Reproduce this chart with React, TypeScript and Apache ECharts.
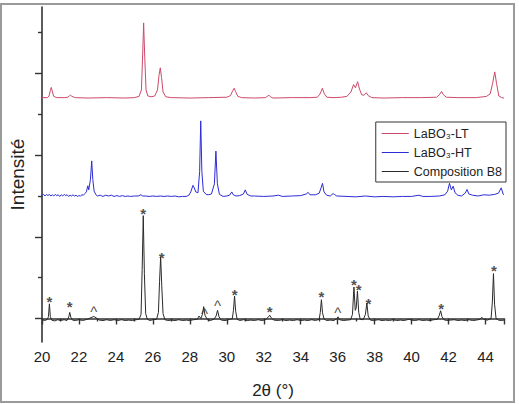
import React, { useEffect, useRef } from "react";
import * as echarts from "echarts";

// 2θ / intensity pairs (intensity in tick units, bottom tick = 0)
const LT_POINTS: [number, number][] = [
  [20.0, 5.41], [20.3, 5.41], [20.38, 5.45], [20.45, 5.58], [20.5, 5.66], [20.55, 5.58], [20.63, 5.44], [20.8, 5.41],
  [21.2, 5.41], [21.4, 5.42], [21.5, 5.46], [21.55, 5.47], [21.62, 5.44], [21.8, 5.41], [22.5, 5.4], [23.5, 5.41],
  [24.5, 5.4], [25.0, 5.41], [25.25, 5.44], [25.38, 5.6], [25.45, 6.5], [25.5, 7.24], [25.56, 6.4], [25.63, 5.6],
  [25.73, 5.45], [25.9, 5.43], [26.1, 5.45], [26.25, 5.6], [26.33, 5.95], [26.4, 6.14], [26.47, 5.9], [26.55, 5.55],
  [26.7, 5.43], [27.0, 5.41], [28.0, 5.4], [29.0, 5.41], [30.0, 5.42], [30.2, 5.46], [30.32, 5.58], [30.4, 5.64],
  [30.47, 5.56], [30.6, 5.44], [30.8, 5.41], [31.5, 5.4], [32.1, 5.41], [32.22, 5.45], [32.28, 5.47], [32.36, 5.43],
  [32.5, 5.4], [33.5, 5.41], [34.5, 5.41], [34.9, 5.42], [35.05, 5.5], [35.17, 5.64], [35.28, 5.5], [35.42, 5.42],
  [35.8, 5.41], [36.2, 5.42], [36.5, 5.44], [36.72, 5.55], [36.86, 5.73], [36.96, 5.65], [37.08, 5.8], [37.18, 5.62],
  [37.3, 5.48], [37.43, 5.47], [37.55, 5.53], [37.65, 5.46], [37.85, 5.41], [38.5, 5.4], [39.5, 5.41], [40.5, 5.41],
  [41.35, 5.42], [41.5, 5.48], [41.62, 5.56], [41.72, 5.48], [41.88, 5.42], [42.5, 5.41], [43.5, 5.41], [44.05, 5.44],
  [44.25, 5.5], [44.38, 5.75], [44.5, 6.04], [44.6, 5.75], [44.72, 5.45], [44.88, 5.41], [45.0, 5.4],
];

const HT_POINTS: [number, number][] = [
  [20.0, 3.02], [20.08, 3.04], [20.16, 3.0], [20.24, 3.04], [20.32, 3.01], [20.4, 3.04], [20.48, 3.0], [20.56, 3.03],
  [20.64, 3.0], [20.72, 3.04], [20.8, 3.01], [20.88, 3.03], [20.96, 2.99], [21.04, 3.03], [21.12, 3.0], [21.2, 3.04],
  [21.28, 3.01], [21.36, 3.03], [21.44, 2.99], [21.52, 3.02], [21.6, 3.0], [21.68, 3.03], [21.76, 3.0], [21.84, 3.02],
  [21.92, 2.99], [22.0, 3.01], [22.08, 3.0], [22.16, 3.03], [22.24, 3.02], [22.32, 3.06], [22.4, 3.1], [22.48, 3.25],
  [22.53, 3.15], [22.62, 3.4], [22.69, 3.86], [22.75, 3.4], [22.82, 3.12], [22.92, 3.03], [23.0, 3.0], [23.15, 3.02],
  [23.3, 2.99], [23.45, 3.02], [23.6, 3.0], [23.75, 3.02], [23.9, 2.99], [24.05, 3.01], [24.2, 2.99], [24.35, 3.01],
  [24.5, 2.99], [24.65, 3.0], [24.8, 2.99], [25.0, 3.0], [25.2, 3.0], [25.35, 3.03], [25.45, 3.0], [25.6, 3.0],
  [25.8, 2.99], [26.0, 3.0], [26.2, 2.99], [26.4, 3.0], [26.6, 2.99], [26.8, 3.0], [27.0, 2.99], [27.2, 3.0],
  [27.4, 2.98], [27.6, 2.99], [27.8, 2.99], [27.95, 3.02], [28.05, 3.1], [28.17, 3.26], [28.24, 3.2], [28.32, 3.1],
  [28.44, 3.08], [28.53, 3.6], [28.59, 4.84], [28.65, 3.6], [28.73, 3.12], [28.88, 3.04], [29.0, 3.03], [29.17, 3.05],
  [29.33, 3.3], [29.41, 4.1], [29.49, 3.3], [29.6, 3.04], [29.8, 2.99], [30.0, 3.0], [30.15, 3.02], [30.27, 3.1],
  [30.35, 3.03], [30.5, 3.0], [30.7, 3.01], [30.9, 3.05], [31.0, 3.15], [31.1, 3.04], [31.3, 3.0], [31.5, 3.0],
  [32.0, 2.99], [32.5, 3.0], [32.8, 3.02], [33.0, 2.99], [33.5, 3.0], [34.0, 3.01], [34.3, 3.05], [34.4, 3.09],
  [34.5, 3.03], [34.8, 3.03], [35.0, 3.07], [35.1, 3.2], [35.18, 3.31], [35.26, 3.1], [35.4, 3.02], [35.6, 3.0],
  [35.75, 3.06], [35.82, 3.04], [35.95, 3.0], [36.5, 2.99], [37.0, 2.98], [37.5, 3.0], [38.0, 2.98], [38.5, 2.99],
  [39.0, 2.98], [39.5, 2.99], [40.0, 2.99], [40.4, 3.02], [40.6, 2.99], [41.0, 2.99], [41.5, 3.0], [41.8, 3.03],
  [41.95, 3.12], [42.05, 3.31], [42.15, 3.15], [42.25, 3.24], [42.35, 3.08], [42.5, 3.02], [42.7, 3.0], [42.9, 3.07],
  [43.0, 3.16], [43.1, 3.05], [43.3, 3.02], [43.6, 3.0], [43.9, 3.03], [44.2, 3.02], [44.5, 3.04], [44.7, 3.07],
  [44.85, 3.2], [44.95, 3.05], [45.0, 3.03],
];

const B8_POINTS: [number, number][] = [
  [20.0, -0.03], [20.15, -0.05], [20.3, -0.02], [20.35, 0.05], [20.4, 0.36], [20.45, 0.05], [20.52, -0.04], [20.7, -0.06],
  [20.85, -0.03], [21.0, -0.05], [21.2, -0.03], [21.35, -0.05], [21.45, 0.04], [21.5, 0.15], [21.56, 0.03], [21.65, -0.04],
  [21.8, -0.05], [22.0, -0.03], [22.2, -0.05], [22.45, -0.02], [22.65, 0.02], [22.8, 0.05], [22.95, 0.01], [23.1, -0.04],
  [23.3, -0.05], [23.5, -0.03], [23.7, -0.05], [23.9, -0.03], [24.1, -0.05], [24.3, -0.03], [24.5, -0.05], [24.7, -0.04],
  [24.9, -0.05], [25.1, -0.03], [25.25, -0.02], [25.36, 0.1], [25.42, 1.2], [25.48, 2.52], [25.54, 1.1], [25.61, 0.12],
  [25.7, -0.02], [25.85, -0.05], [26.0, -0.03], [26.2, -0.02], [26.3, 0.15], [26.36, 0.9], [26.42, 1.51], [26.48, 0.8],
  [26.55, 0.12], [26.65, -0.03], [26.8, -0.05], [27.0, -0.04], [27.2, -0.05], [27.4, -0.03], [27.6, -0.05], [27.8, -0.04],
  [28.0, -0.05], [28.2, -0.03], [28.4, -0.02], [28.5, 0.06], [28.6, 0.0], [28.68, 0.1], [28.75, 0.29], [28.82, 0.08],
  [28.95, -0.03], [29.1, -0.05], [29.3, -0.02], [29.42, 0.06], [29.5, 0.2], [29.58, 0.04], [29.7, -0.04], [29.9, -0.05],
  [30.1, -0.03], [30.3, 0.0], [30.36, 0.2], [30.42, 0.55], [30.48, 0.18], [30.56, -0.02], [30.7, -0.05], [30.9, -0.03],
  [31.1, -0.05], [31.3, -0.04], [31.5, -0.05], [31.7, -0.03], [31.9, -0.05], [32.1, -0.03], [32.25, 0.04], [32.32, 0.08],
  [32.4, 0.02], [32.55, -0.04], [32.8, -0.05], [33.0, -0.03], [33.2, -0.05], [33.4, -0.04], [33.6, -0.05], [33.8, -0.03],
  [34.0, -0.05], [34.2, -0.04], [34.4, -0.05], [34.6, -0.03], [34.8, -0.05], [35.0, -0.02], [35.06, 0.15], [35.12, 0.46],
  [35.18, 0.14], [35.26, -0.01], [35.4, -0.05], [35.6, -0.04], [35.8, -0.05], [35.95, 0.0], [36.02, 0.04], [36.1, -0.03],
  [36.3, -0.05], [36.5, -0.04], [36.7, -0.03], [36.8, 0.1], [36.88, 0.77], [36.95, 0.2], [37.0, 0.25], [37.07, 0.67],
  [37.14, 0.15], [37.22, -0.02], [37.38, -0.03], [37.5, 0.1], [37.58, 0.38], [37.65, 0.06], [37.77, -0.04], [37.95, -0.05],
  [38.2, -0.03], [38.4, -0.05], [38.6, -0.04], [38.8, -0.05], [39.0, -0.03], [39.2, -0.05], [39.4, -0.04], [39.6, -0.05],
  [39.85, -0.02], [40.0, -0.04], [40.2, -0.05], [40.4, -0.03], [40.6, -0.05], [40.8, -0.04], [41.0, -0.05], [41.2, -0.03],
  [41.4, -0.02], [41.5, 0.08], [41.57, 0.19], [41.64, 0.05], [41.75, -0.03], [41.9, -0.05], [42.1, -0.04], [42.3, -0.03],
  [42.5, -0.05], [42.7, -0.04], [42.9, -0.05], [43.1, -0.03], [43.3, -0.05], [43.5, -0.04], [43.7, -0.02], [43.8, 0.03],
  [43.9, -0.02], [44.1, -0.04], [44.3, 0.0], [44.37, 0.4], [44.43, 1.1], [44.49, 0.35], [44.57, 0.0], [44.7, -0.04],
  [44.85, -0.05], [45.0, -0.04],
];

// peak annotations on the Composition B8 pattern
const STAR_X = [20.4, 21.5, 25.48, 26.48, 30.42, 32.32, 35.12, 36.88, 37.13, 37.66, 41.6, 44.45];
const STAR_Y = [0.5, 0.36, 2.64, 1.56, 0.65, 0.24, 0.62, 0.91, 0.79, 0.43, 0.31, 1.25];
const CARET_X = [22.8, 28.8, 29.5, 36.0];
const CARET_Y = [0.24, 0.19, 0.38, 0.22];

const SERIES_NAMES = ["LaBO₃-LT", "LaBO₃-HT", "Composition B8"];
const SERIES_COLORS = ["#cc4a6a", "#2c2cd6", "#2a2a2a"];
const X_MIN = 20;
const X_MAX = 45;
const Y_MAJOR_TICKS = [0, 2, 4, 6];
const Y_MINOR_TICKS = [1, 3, 5, 7];

export default function App() {
  const ref = useRef<HTMLDivElement>(null);
  useEffect(() => {
    if (!ref.current) return;
    const chart = echarts.init(ref.current, null, { renderer: "svg" });
    const font = "'Liberation Sans', Arial, sans-serif";
    const yMin = -0.576;
    const yMax = 7.63;
    const lineSeries = [LT_POINTS, HT_POINTS, B8_POINTS].map((pts, i) => ({
      type: "line",
      name: SERIES_NAMES[i],
      data: pts,
      symbol: "none",
      lineStyle: { color: SERIES_COLORS[i], width: 1 },
      itemStyle: { color: SERIES_COLORS[i] },
      silent: true,
    }));
    chart.setOption({
      animation: false,
      backgroundColor: "#ffffff",
      textStyle: { fontFamily: font },
      grid: { left: 41, right: 15, top: 7, bottom: 55, containLabel: false },
      xAxis: {
        type: "value",
        min: X_MIN,
        max: X_MAX,
        interval: 2,
        name: "2θ (°)",
        nameLocation: "middle",
        nameGap: 40,
        nameTextStyle: { fontSize: 17, color: "#222", fontFamily: font },
        axisLine: { lineStyle: { color: "#333", width: 1.6 } },
        axisTick: { inside: false, length: 6, lineStyle: { color: "#333", width: 1.4 } },
        minorTick: { show: true, splitNumber: 2, length: 3, lineStyle: { color: "#333", width: 1.4 } },
        axisLabel: { fontSize: 15, color: "#222", margin: 7, fontFamily: font, showMaxLabel: false },
        splitLine: { show: false },
      },
      yAxis: [
        {
          type: "value",
          min: yMin,
          max: yMax,
          name: "Intensité",
          nameLocation: "middle",
          nameGap: 15,
          nameRotate: 90,
          nameTextStyle: { fontSize: 19, color: "#222", fontFamily: font },
          axisLine: { show: true, lineStyle: { color: "#333", width: 1.6 } },
          axisTick: { show: true, inside: false, length: 7, customValues: Y_MAJOR_TICKS, lineStyle: { color: "#333", width: 1.4 } },
          axisLabel: { show: false },
          splitLine: { show: false },
        },
        {
          type: "value",
          min: yMin,
          max: yMax,
          position: "left",
          axisLine: { show: false },
          axisTick: { show: true, inside: false, length: 4, customValues: Y_MINOR_TICKS, lineStyle: { color: "#333", width: 1.4 } },
          axisLabel: { show: false },
          splitLine: { show: false },
        },
      ],
      legend: {
        data: SERIES_NAMES.map((n) => ({ name: n, icon: "path://M0 0 H27 V1 H0 Z" })),
        orient: "vertical",
        right: 13,
        top: 122,
        backgroundColor: "#fff",
        borderColor: "#333",
        borderWidth: 1,
        borderRadius: 0,
        padding: [5, 4, 4, 6],
        itemGap: 6,
        itemWidth: 27,
        itemHeight: 12,
        textStyle: { fontSize: 12.5, color: "#222", fontFamily: font },
      },
      graphic: [
        {
          type: "rect",
          shape: { x: 1, y: 4, width: 513, height: 398 },
          style: { fill: "none", stroke: "#9a9a9a", lineWidth: 2 },
          silent: true,
        },
      ],
      series: [
        ...lineSeries,
        {
          type: "scatter",
          name: "stars",
          data: STAR_X.map((x, i) => [x, STAR_Y[i]]),
          symbolSize: 0,
          silent: true,
          label: {
            show: true,
            position: "inside",
            formatter: "*",
            fontSize: 15,
            fontWeight: "bold",
            color: "#222",
            offset: [0, 3],
          },
        },
        {
          type: "scatter",
          name: "carets",
          data: CARET_X.map((x, i) => [x, CARET_Y[i]]),
          symbolSize: 0,
          silent: true,
          label: {
            show: true,
            position: "inside",
            formatter: "^",
            fontSize: 15,
            color: "#222",
            offset: [0, 3],
          },
        },
      ],
    });
    return () => chart.dispose();
  }, []);
  return (
    <div style={{ position: "absolute", left: 0, top: 0, width: 519, height: 404, background: "#fff" }}>
      <div ref={ref} style={{ width: 519, height: 404 }} />
    </div>
  );
}
